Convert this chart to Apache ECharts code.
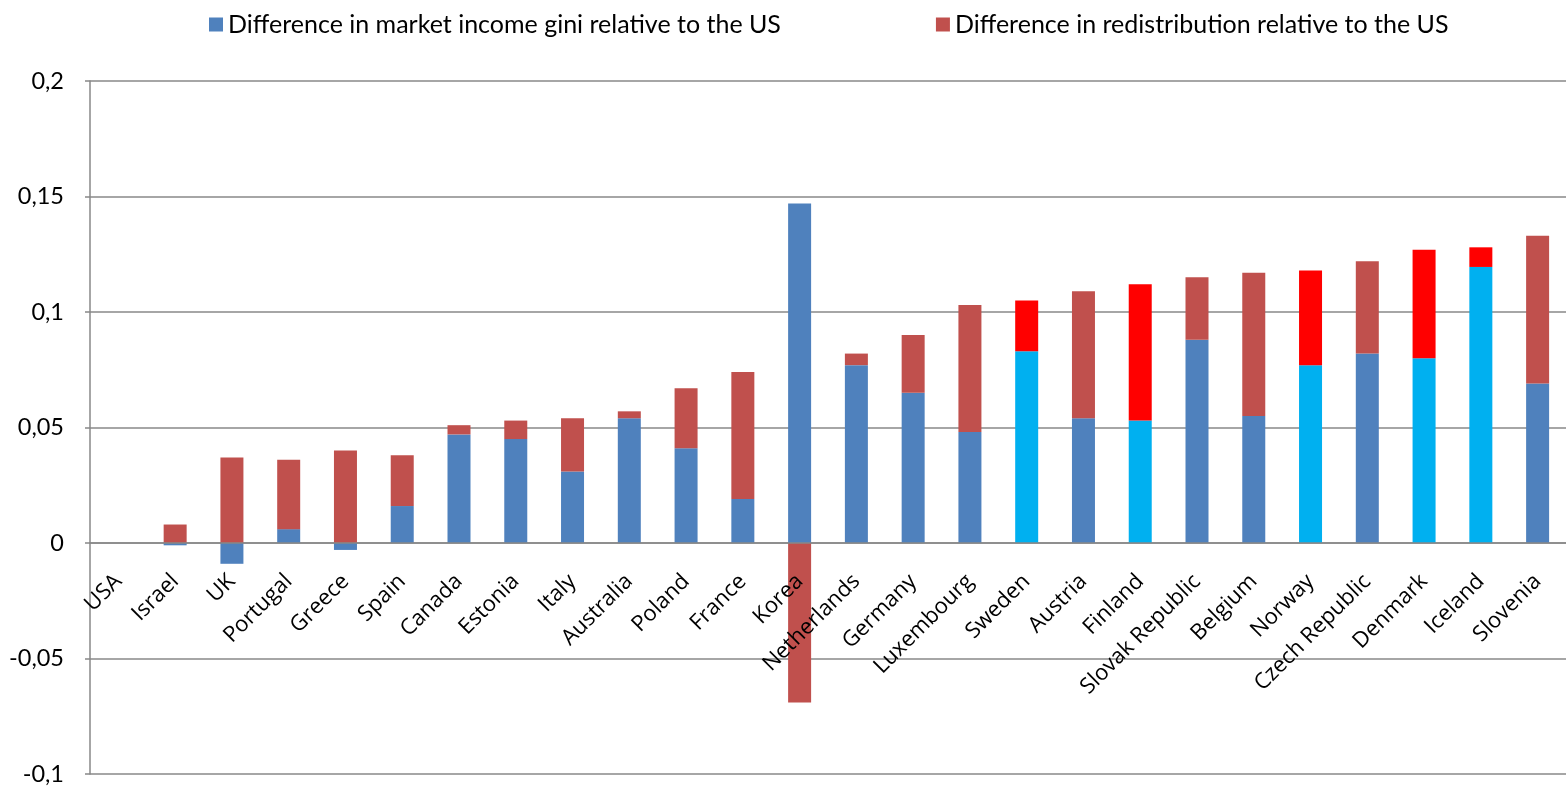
<!DOCTYPE html>
<html>
<head>
<meta charset="utf-8">
<script src="https://cdn.jsdelivr.net/npm/echarts@6/dist/echarts.min.js"></script>
<style>
html,body{margin:0;padding:0;background:#fff;}
#chart{width:1566px;height:786px;}
</style>
</head>
<body>
<div id="chart"></div>
<script>
const categories = ['USA','Israel','UK','Portugal','Greece','Spain','Canada','Estonia','Italy','Australia','Poland','France','Korea','Netherlands','Germany','Luxembourg','Sweden','Austria','Finland','Slovak Republic','Belgium','Norway','Czech Republic','Denmark','Iceland','Slovenia'];
const marketIncome = [0,-0.001,-0.009,0.006,-0.003,0.016,0.047,0.045,0.031,0.054,0.041,0.019,0.147,0.077,0.065,0.048,0.083,0.054,0.053,0.088,0.055,0.077,0.082,0.080,0.1195,0.069];
const redistribution = [0,0.008,0.037,0.030,0.040,0.022,0.004,0.008,0.023,0.003,0.026,0.055,-0.069,0.005,0.025,0.055,0.022,0.055,0.059,0.027,0.062,0.041,0.040,0.047,0.0085,0.064];
const highlighted = ['Sweden','Finland','Norway','Denmark','Iceland'];
const yTicks = { min: -0.1, max: 0.2, interval: 0.05 };

const BLUE = '#4F81BD', RED = '#C0504D', CYAN = '#00B0F0', BRIGHT = '#FF0000';

const GRID = { left: 90, right: 0, top: 81, bottom: 12 };
const H = 786;
const plotH = H - GRID.top - GRID.bottom;
// place the category axis on the zero line
const zeroOffset = -plotH * (0 - yTicks.min) / (yTicks.max - yTicks.min);

const chart = echarts.init(document.getElementById('chart'));
chart.setOption({
  animation: false,
  legend: {
    top: 7,
    left: 204,
    itemGap: 155,
    itemWidth: 14,
    itemHeight: 14,
    icon: 'rect',
    textStyle: { fontFamily: 'Lato', fontSize: 25, color: '#000' },
    data: ['Difference in market income gini relative to the US', 'Difference in redistribution relative to the US']
  },
  grid: Object.assign({ containLabel: false, outerBoundsMode: 'none' }, GRID),
  xAxis: {
    type: 'category',
    data: categories,
    position: 'bottom',
    offset: zeroOffset,
    z: 5,
    axisLine: { onZero: false, lineStyle: { color: '#888', width: 1.5 } },
    axisTick: { inside: true, length: 8, lineStyle: { color: '#888', width: 1.5 } },
    axisLabel: { rotate: 45, interval: 0, fontFamily: 'Open Sans', fontSize: 22, color: '#000', margin: 35 }
  },
  yAxis: {
    type: 'value',
    min: yTicks.min, max: yTicks.max, interval: yTicks.interval,
    axisLine: { show: true, lineStyle: { color: '#888', width: 1.5 } },
    axisTick: { show: true, length: 5, lineStyle: { color: '#888', width: 1.5 } },
    splitLine: { lineStyle: { color: '#888', width: 1.5 } },
    axisLabel: {
      fontFamily: 'Lato', fontSize: 23.5, color: '#000', margin: 26,
      formatter: v => String(Math.round(v * 100) / 100).replace('.', ',')
    }
  },
  series: [
    {
      name: 'Difference in market income gini relative to the US',
      type: 'bar', stack: 'total', barWidth: 23,
      itemStyle: { color: BLUE },
      data: marketIncome.map((v, i) => ({ value: v, itemStyle: { color: highlighted.includes(categories[i]) ? CYAN : BLUE } }))
    },
    {
      name: 'Difference in redistribution relative to the US',
      type: 'bar', stack: 'total', barWidth: 23,
      itemStyle: { color: RED },
      data: redistribution.map((v, i) => ({ value: v, itemStyle: { color: highlighted.includes(categories[i]) ? BRIGHT : RED } }))
    }
  ]
});
</script>
</body>
</html>
